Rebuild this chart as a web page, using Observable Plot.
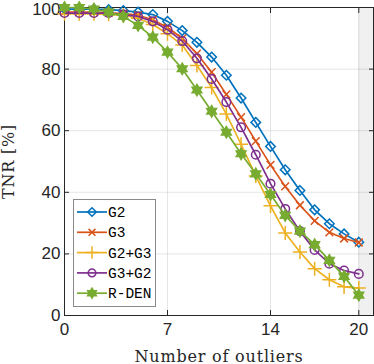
<!DOCTYPE html>
<html><head><meta charset="utf-8">
<script src="https://cdn.jsdelivr.net/npm/d3@7"></script>
<script src="https://cdn.jsdelivr.net/npm/@observablehq/plot@0.6"></script>
<style>
html,body{margin:0;padding:0;background:#fff;}
#wrap{position:relative;width:374px;height:364px;}
#legend{position:absolute;left:73px;top:199px;}
</style></head><body><div id="wrap"></div>
<script>
const outliers = [0,1,2,3,4,5,6,7,8,9,10,11,12,13,14,15,16,17,18,19,20];
const seriesNames = ["G2","G3","G2+G3","G3+G2","R-DEN"];
const tnrG2   = [99.5,99.5,99.5,99.3,99.0,98.5,97.7,95.5,92.5,88.7,83.9,78.0,70.6,62.7,54.9,47.3,40.6,34.3,29.8,26.5,23.8];
const tnrG3   = [98.5,98.5,98.5,98.3,98.0,97.5,96.0,93.5,90.0,85.0,79.0,71.8,64.4,56.6,48.9,41.9,35.8,30.7,27.0,25.0,23.7];
const tnrG2G3 = [98.0,98.0,98.0,97.8,97.5,96.5,94.5,91.5,87.8,81.2,74.0,65.4,55.6,45.3,35.6,26.8,20.6,15.2,11.6,9.3,8.9];
const tnrG3G2 = [98.2,98.2,98.2,98.2,97.7,97.1,95.5,92.8,89.1,83.5,76.8,69.3,61.1,52.2,42.8,34.6,27.4,21.3,16.8,14.6,13.5];
const tnrRDEN = [100,100,99.5,98.5,97.1,94.2,90.4,85.5,80.1,73.2,66.3,59.5,52.5,46.0,39.3,32.5,27.4,23.0,17.9,12.7,6.6];
const seriesValues = [tnrG2, tnrG3, tnrG2G3, tnrG3G2, tnrRDEN];
const colors = ["#0072BD","#D95319","#EDB120","#7E2F8E","#77AC30"];
const xTicks = [0,7,14,20];
const yTicks = [0,20,40,60,80,100];
const xDomain = [0,21];
const yDomain = [0,100];
const shadedRange = [[20,21]];

const hexagram = {
  draw(ctx, size) {
    const R = Math.sqrt(size / Math.PI) * 1.25, r = R / Math.sqrt(3);
    for (let i = 0; i < 12; i++) {
      const a = Math.PI / 6 * i - Math.PI / 2, rr = i % 2 ? r : R;
      const x = rr * Math.cos(a), y = rr * Math.sin(a);
      i ? ctx.lineTo(x, y) : ctx.moveTo(x, y);
    }
    ctx.closePath();
  }
};
const symbols = ["diamond2","times","plus","circle",hexagram];
const symR = [4.3, 3.6, 4.6, 4.3, 4.5];
const symFill = ["none","none","none","none","#77AC30"];

const data = seriesNames.flatMap((name,i)=>outliers.map((x,j)=>({series:name, x, y:seriesValues[i][j]})));

const seriesMarks = seriesNames.flatMap((name,i)=>{
  const d = data.filter(p=>p.series===name);
  return [
    Plot.line(d,{x:"x",y:"y",stroke:colors[i],strokeWidth:1.7}),
    Plot.dot(d,{x:"x",y:"y",symbol:symbols[i],r:symR[i],stroke:colors[i],fill:symFill[i],strokeWidth:1.5})
  ];
});

const chart = Plot.plot({
  width:374, height:364,
  marginLeft:64, marginRight:1, marginTop:7, marginBottom:49,
  style:{fontFamily:"'Liberation Sans', Arial, sans-serif", fontSize:"17px", color:"#262626", background:"#fff"},
  x:{domain:xDomain}, y:{domain:yDomain},
  marks:[
    Plot.rect(shadedRange,{x1:d=>d[0],x2:d=>d[1],fill:"#f0f0f0"}),
    Plot.gridX(xTicks,{stroke:"#262626",strokeOpacity:0.12}),
    Plot.gridY(yTicks,{stroke:"#262626",strokeOpacity:0.12}),
    Plot.axisX(xTicks,{tickSize:-5,tickPadding:12,label:"Number of outliers",labelAnchor:"center",labelArrow:"none",labelOffset:46}),
    Plot.axisX(xTicks,{anchor:"top",tickSize:-5,tickFormat:()=>"",label:null}),
    Plot.axisY(yTicks,{tickSize:-5,tickPadding:9,label:"TNR [%]",labelAnchor:"center",labelArrow:"none",labelOffset:62}),
    Plot.axisY(yTicks,{anchor:"right",tickSize:-5,tickFormat:()=>"",label:null}),
    Plot.frame({stroke:"#262626",strokeWidth:1}),
    ...seriesMarks
  ]
});
d3.select(chart).selectAll('g[aria-label="x-axis label"], g[aria-label="y-axis label"]')
  .attr("font-family","'DejaVu Serif', serif").attr("font-size","16px").attr("letter-spacing","0.8px");
d3.select(chart).selectAll('g[aria-label="y-axis tick label"] text')
  .filter(function(){ return this.textContent === "100"; })
  .attr("dy","0.1em");
document.getElementById("wrap").appendChild(chart);

// legend
const lg = d3.select("#wrap").append("div").attr("id","legend")
  .append("svg").attr("width",83).attr("height",108);
lg.append("rect").attr("x",0.5).attr("y",0.5).attr("width",82).attr("height",107)
  .attr("fill","#fff").attr("stroke","#8a8a8a").attr("stroke-width",1);
seriesNames.forEach((name,i)=>{
  const y = 13 + 20.3*i;
  lg.append("line").attr("x1",4).attr("x2",34).attr("y1",y).attr("y2",y)
    .attr("stroke",colors[i]).attr("stroke-width",1.7);
  const sym = typeof symbols[i]==="string" ? {diamond2:d3.symbolDiamond2,times:d3.symbolTimes,plus:d3.symbolPlus,circle:d3.symbolCircle}[symbols[i]] : symbols[i];
  lg.append("path").attr("d",d3.symbol(sym, Math.PI*symR[i]*symR[i]*0.8)())
    .attr("transform",`translate(19,${y})`).attr("stroke",colors[i]).attr("fill",symFill[i]).attr("stroke-width",1.5);
  lg.append("text").attr("x",35).attr("y",y).attr("dy","0.35em")
    .attr("font-family","'Liberation Mono', monospace").attr("font-size","14.5px").attr("fill","#000").text(name);
});
</script></body></html>
